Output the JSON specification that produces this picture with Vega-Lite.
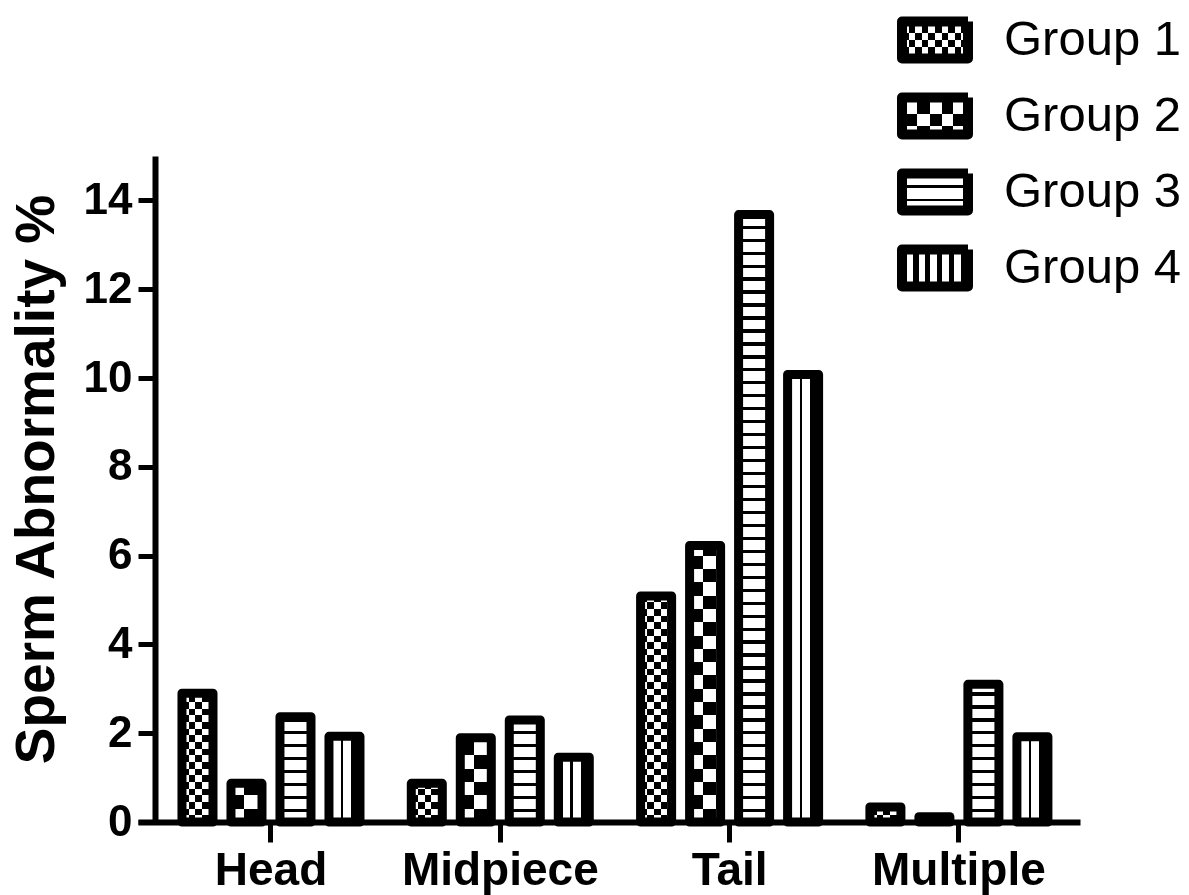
{
  "$schema": "https://vega.github.io/schema/vega-lite/v6.json",
  "width": 942,
  "height": 666,
  "autosize": {"type": "none"},
  "padding": {"left": 138, "top": 156, "right": 109, "bottom": 73},
  "background": "white",
  "config": {"font": "Liberation Sans", "view": {"stroke": null}},
  "data": {"values": [
    {"cat": "Head", "group": "Group 1", "value": 2.9},
    {"cat": "Head", "group": "Group 2", "value": 0.87},
    {"cat": "Head", "group": "Group 3", "value": 2.37},
    {"cat": "Head", "group": "Group 4", "value": 1.93},
    {"cat": "Midpiece", "group": "Group 1", "value": 0.87},
    {"cat": "Midpiece", "group": "Group 2", "value": 1.9},
    {"cat": "Midpiece", "group": "Group 3", "value": 2.3},
    {"cat": "Midpiece", "group": "Group 4", "value": 1.46},
    {"cat": "Tail", "group": "Group 1", "value": 5.09},
    {"cat": "Tail", "group": "Group 2", "value": 6.23},
    {"cat": "Tail", "group": "Group 3", "value": 13.68},
    {"cat": "Tail", "group": "Group 4", "value": 10.08},
    {"cat": "Multiple", "group": "Group 1", "value": 0.34},
    {"cat": "Multiple", "group": "Group 2", "value": 0.12},
    {"cat": "Multiple", "group": "Group 3", "value": 3.1},
    {"cat": "Multiple", "group": "Group 4", "value": 1.92}
  ]},
  "encoding": {
    "x": {"field": "cat", "type": "nominal", "title": null,
      "scale": {"domain": ["Head", "Midpiece", "Tail", "Multiple"], "paddingInner": 0, "paddingOuter": 0.054, "align": 0.74},
      "axis": {"labelFont": "Liberation Sans", "labelFontSize": 46, "labelFontWeight": "bold", "labelColor": "black", "labelAngle": 0, "labelPadding": 6, "labelLimit": 400, "tickSize": 20, "tickWidth": 5, "tickColor": "black", "domainWidth": 6, "domainColor": "black", "grid": false, "zindex": 1}},
    "xOffset": {"field": "group", "type": "nominal",
      "scale": {"domain": ["Group 1", "Group 2", "Group 3", "Group 4"], "paddingInner": 0.367, "paddingOuter": 0.5235}}
  },
  "layer": [
    {
      "transform": [{"filter": "datum.group === 'Group 4'"}],
      "mark": {"type": "bar", "strokeWidth": 0, "fill": {"gradient": "linear", "x1": 0, "y1": 0, "x2": 1, "y2": 0, "stops": [
        {"offset": 0, "color": "#000"}, {"offset": 0.145, "color": "#000"}, {"offset": 0.145, "color": "#fff"}, {"offset": 0.387, "color": "#fff"},
        {"offset": 0.387, "color": "#000"}, {"offset": 0.468, "color": "#000"}, {"offset": 0.468, "color": "#fff"}, {"offset": 0.726, "color": "#fff"},
        {"offset": 0.726, "color": "#000"}, {"offset": 1, "color": "#000"}]}},
      "encoding": {"y": {"field": "value", "type": "quantitative",
        "scale": {"domain": [0, 15], "nice": false, "zero": true},
        "axis": {"title": "Sperm Abnormality %", "titleFont": "Liberation Sans", "titleFontSize": 55, "titleFontWeight": "bold", "titleColor": "black", "titlePadding": 18, "titleY": 323,
          "values": [0, 2, 4, 6, 8, 10, 12, 14], "labelFont": "Liberation Sans", "labelFontSize": 44, "labelFontWeight": "bold", "labelColor": "black", "labelPadding": 6,
          "tickSize": 17, "tickWidth": 5, "tickColor": "black", "domainWidth": 6, "domainColor": "black", "offset": -17, "grid": false, "zindex": 1}}}
    },
    {
      "transform": [{"filter": "datum.group === 'Group 1'"}],
      "mark": {"type": "bar", "strokeWidth": 0, "fill": {"gradient": "linear", "x1": 0, "y1": 0, "x2": 1, "y2": 0, "stops": [
        {"offset": 0, "color": "#000"}, {"offset": 0.215, "color": "#000"}, {"offset": 0.215, "color": "#fff"}, {"offset": 0.43, "color": "#fff"},
        {"offset": 0.43, "color": "#000"}, {"offset": 0.645, "color": "#000"}, {"offset": 0.645, "color": "#fff"}, {"offset": 0.86, "color": "#fff"},
        {"offset": 0.86, "color": "#000"}, {"offset": 1, "color": "#000"}]}},
      "encoding": {"y": {"field": "value", "type": "quantitative"}}
    },
    {
      "transform": [{"filter": "datum.group === 'Group 1'"}],
      "mark": {"type": "bar", "strokeWidth": 0, "blend": "difference", "fill": {"gradient": "linear", "x1": 0, "y1": 0, "x2": 0, "y2": 1, "stops": [
        {"offset": 0, "color": "#000"}, {"offset": 0.025, "color": "#000"}, {"offset": 0.025, "color": "#fff"}, {"offset": 0.05, "color": "#fff"},
        {"offset": 0.05, "color": "#000"}, {"offset": 0.075, "color": "#000"}, {"offset": 0.075, "color": "#fff"}, {"offset": 0.1, "color": "#fff"},
        {"offset": 0.1, "color": "#000"}, {"offset": 0.125, "color": "#000"}, {"offset": 0.125, "color": "#fff"}, {"offset": 0.15, "color": "#fff"},
        {"offset": 0.15, "color": "#000"}, {"offset": 0.175, "color": "#000"}, {"offset": 0.175, "color": "#fff"}, {"offset": 0.2, "color": "#fff"},
        {"offset": 0.2, "color": "#000"}, {"offset": 0.225, "color": "#000"}, {"offset": 0.225, "color": "#fff"}, {"offset": 0.25, "color": "#fff"},
        {"offset": 0.25, "color": "#000"}, {"offset": 0.275, "color": "#000"}, {"offset": 0.275, "color": "#fff"}, {"offset": 0.3, "color": "#fff"},
        {"offset": 0.3, "color": "#000"}, {"offset": 0.325, "color": "#000"}, {"offset": 0.325, "color": "#fff"}, {"offset": 0.35, "color": "#fff"},
        {"offset": 0.35, "color": "#000"}, {"offset": 0.375, "color": "#000"}, {"offset": 0.375, "color": "#fff"}, {"offset": 0.4, "color": "#fff"},
        {"offset": 0.4, "color": "#000"}, {"offset": 0.425, "color": "#000"}, {"offset": 0.425, "color": "#fff"}, {"offset": 0.45, "color": "#fff"},
        {"offset": 0.45, "color": "#000"}, {"offset": 0.475, "color": "#000"}, {"offset": 0.475, "color": "#fff"}, {"offset": 0.5, "color": "#fff"},
        {"offset": 0.5, "color": "#000"}, {"offset": 0.525, "color": "#000"}, {"offset": 0.525, "color": "#fff"}, {"offset": 0.55, "color": "#fff"},
        {"offset": 0.55, "color": "#000"}, {"offset": 0.575, "color": "#000"}, {"offset": 0.575, "color": "#fff"}, {"offset": 0.6, "color": "#fff"},
        {"offset": 0.6, "color": "#000"}, {"offset": 0.625, "color": "#000"}, {"offset": 0.625, "color": "#fff"}, {"offset": 0.65, "color": "#fff"},
        {"offset": 0.65, "color": "#000"}, {"offset": 0.675, "color": "#000"}, {"offset": 0.675, "color": "#fff"}, {"offset": 0.7, "color": "#fff"},
        {"offset": 0.7, "color": "#000"}, {"offset": 0.725, "color": "#000"}, {"offset": 0.725, "color": "#fff"}, {"offset": 0.75, "color": "#fff"},
        {"offset": 0.75, "color": "#000"}, {"offset": 0.775, "color": "#000"}, {"offset": 0.775, "color": "#fff"}, {"offset": 0.8, "color": "#fff"},
        {"offset": 0.8, "color": "#000"}, {"offset": 0.825, "color": "#000"}, {"offset": 0.825, "color": "#fff"}, {"offset": 0.85, "color": "#fff"},
        {"offset": 0.85, "color": "#000"}, {"offset": 0.875, "color": "#000"}, {"offset": 0.875, "color": "#fff"}, {"offset": 0.9, "color": "#fff"},
        {"offset": 0.9, "color": "#000"}, {"offset": 0.925, "color": "#000"}, {"offset": 0.925, "color": "#fff"}, {"offset": 0.95, "color": "#fff"},
        {"offset": 0.95, "color": "#000"}, {"offset": 0.975, "color": "#000"}, {"offset": 0.975, "color": "#fff"}, {"offset": 1, "color": "#fff"}]}},
      "encoding": {"y": {"datum": 6}, "y2": {"datum": 0}}
    },
    {
      "transform": [{"filter": "datum.group === 'Group 1'"}],
      "mark": {"type": "bar", "fill": "white", "stroke": "white", "strokeWidth": 2},
      "encoding": {"y": {"field": "value", "type": "quantitative"}, "y2": {"datum": 6}}
    },
    {
      "transform": [{"filter": "datum.group === 'Group 2'"}],
      "mark": {"type": "bar", "strokeWidth": 0, "fill": {"gradient": "linear", "x1": 0, "y1": 0, "x2": 1, "y2": 0, "stops": [
        {"offset": 0, "color": "#fff"}, {"offset": 0.43, "color": "#fff"}, {"offset": 0.43, "color": "#000"}, {"offset": 0.86, "color": "#000"},
        {"offset": 0.86, "color": "#fff"}, {"offset": 1, "color": "#fff"}]}},
      "encoding": {"y": {"field": "value", "type": "quantitative"}}
    },
    {
      "transform": [{"filter": "datum.group === 'Group 2'"}],
      "mark": {"type": "bar", "strokeWidth": 0, "blend": "difference", "fill": {"gradient": "linear", "x1": 0, "y1": 0, "x2": 0, "y2": 1, "stops": [
        {"offset": 0, "color": "#000"}, {"offset": 0.04, "color": "#000"}, {"offset": 0.04, "color": "#fff"}, {"offset": 0.08, "color": "#fff"},
        {"offset": 0.08, "color": "#000"}, {"offset": 0.12, "color": "#000"}, {"offset": 0.12, "color": "#fff"}, {"offset": 0.16, "color": "#fff"},
        {"offset": 0.16, "color": "#000"}, {"offset": 0.2, "color": "#000"}, {"offset": 0.2, "color": "#fff"}, {"offset": 0.24, "color": "#fff"},
        {"offset": 0.24, "color": "#000"}, {"offset": 0.28, "color": "#000"}, {"offset": 0.28, "color": "#fff"}, {"offset": 0.32, "color": "#fff"},
        {"offset": 0.32, "color": "#000"}, {"offset": 0.36, "color": "#000"}, {"offset": 0.36, "color": "#fff"}, {"offset": 0.4, "color": "#fff"},
        {"offset": 0.4, "color": "#000"}, {"offset": 0.44, "color": "#000"}, {"offset": 0.44, "color": "#fff"}, {"offset": 0.48, "color": "#fff"},
        {"offset": 0.48, "color": "#000"}, {"offset": 0.52, "color": "#000"}, {"offset": 0.52, "color": "#fff"}, {"offset": 0.56, "color": "#fff"},
        {"offset": 0.56, "color": "#000"}, {"offset": 0.6, "color": "#000"}, {"offset": 0.6, "color": "#fff"}, {"offset": 0.64, "color": "#fff"},
        {"offset": 0.64, "color": "#000"}, {"offset": 0.68, "color": "#000"}, {"offset": 0.68, "color": "#fff"}, {"offset": 0.72, "color": "#fff"},
        {"offset": 0.72, "color": "#000"}, {"offset": 0.76, "color": "#000"}, {"offset": 0.76, "color": "#fff"}, {"offset": 0.8, "color": "#fff"},
        {"offset": 0.8, "color": "#000"}, {"offset": 0.84, "color": "#000"}, {"offset": 0.84, "color": "#fff"}, {"offset": 0.88, "color": "#fff"},
        {"offset": 0.88, "color": "#000"}, {"offset": 0.92, "color": "#000"}, {"offset": 0.92, "color": "#fff"}, {"offset": 0.96, "color": "#fff"},
        {"offset": 0.96, "color": "#000"}, {"offset": 1, "color": "#000"}]}},
      "encoding": {"y": {"datum": 7.5}, "y2": {"datum": 0}}
    },
    {
      "transform": [{"filter": "datum.group === 'Group 2'"}],
      "mark": {"type": "bar", "fill": "white", "stroke": "white", "strokeWidth": 2},
      "encoding": {"y": {"field": "value", "type": "quantitative"}, "y2": {"datum": 7.5}}
    },
    {
      "transform": [{"filter": "datum.group === 'Group 3'"}],
      "mark": {"type": "bar", "strokeWidth": 0, "fill": {"gradient": "linear", "x1": 0, "y1": 0, "x2": 0, "y2": 1, "stops": [
        {"offset": 0, "color": "#000"}, {"offset": 0.005, "color": "#000"}, {"offset": 0.005, "color": "#fff"}, {"offset": 0.02, "color": "#fff"},
        {"offset": 0.02, "color": "#000"}, {"offset": 0.025, "color": "#000"}, {"offset": 0.025, "color": "#fff"}, {"offset": 0.04, "color": "#fff"},
        {"offset": 0.04, "color": "#000"}, {"offset": 0.045, "color": "#000"}, {"offset": 0.045, "color": "#fff"}, {"offset": 0.06, "color": "#fff"},
        {"offset": 0.06, "color": "#000"}, {"offset": 0.065, "color": "#000"}, {"offset": 0.065, "color": "#fff"}, {"offset": 0.08, "color": "#fff"},
        {"offset": 0.08, "color": "#000"}, {"offset": 0.085, "color": "#000"}, {"offset": 0.085, "color": "#fff"}, {"offset": 0.1, "color": "#fff"},
        {"offset": 0.1, "color": "#000"}, {"offset": 0.105, "color": "#000"}, {"offset": 0.105, "color": "#fff"}, {"offset": 0.12, "color": "#fff"},
        {"offset": 0.12, "color": "#000"}, {"offset": 0.125, "color": "#000"}, {"offset": 0.125, "color": "#fff"}, {"offset": 0.14, "color": "#fff"},
        {"offset": 0.14, "color": "#000"}, {"offset": 0.145, "color": "#000"}, {"offset": 0.145, "color": "#fff"}, {"offset": 0.16, "color": "#fff"},
        {"offset": 0.16, "color": "#000"}, {"offset": 0.165, "color": "#000"}, {"offset": 0.165, "color": "#fff"}, {"offset": 0.18, "color": "#fff"},
        {"offset": 0.18, "color": "#000"}, {"offset": 0.185, "color": "#000"}, {"offset": 0.185, "color": "#fff"}, {"offset": 0.2, "color": "#fff"},
        {"offset": 0.2, "color": "#000"}, {"offset": 0.205, "color": "#000"}, {"offset": 0.205, "color": "#fff"}, {"offset": 0.22, "color": "#fff"},
        {"offset": 0.22, "color": "#000"}, {"offset": 0.225, "color": "#000"}, {"offset": 0.225, "color": "#fff"}, {"offset": 0.24, "color": "#fff"},
        {"offset": 0.24, "color": "#000"}, {"offset": 0.245, "color": "#000"}, {"offset": 0.245, "color": "#fff"}, {"offset": 0.26, "color": "#fff"},
        {"offset": 0.26, "color": "#000"}, {"offset": 0.265, "color": "#000"}, {"offset": 0.265, "color": "#fff"}, {"offset": 0.28, "color": "#fff"},
        {"offset": 0.28, "color": "#000"}, {"offset": 0.285, "color": "#000"}, {"offset": 0.285, "color": "#fff"}, {"offset": 0.3, "color": "#fff"},
        {"offset": 0.3, "color": "#000"}, {"offset": 0.305, "color": "#000"}, {"offset": 0.305, "color": "#fff"}, {"offset": 0.32, "color": "#fff"},
        {"offset": 0.32, "color": "#000"}, {"offset": 0.325, "color": "#000"}, {"offset": 0.325, "color": "#fff"}, {"offset": 0.34, "color": "#fff"},
        {"offset": 0.34, "color": "#000"}, {"offset": 0.345, "color": "#000"}, {"offset": 0.345, "color": "#fff"}, {"offset": 0.36, "color": "#fff"},
        {"offset": 0.36, "color": "#000"}, {"offset": 0.365, "color": "#000"}, {"offset": 0.365, "color": "#fff"}, {"offset": 0.38, "color": "#fff"},
        {"offset": 0.38, "color": "#000"}, {"offset": 0.385, "color": "#000"}, {"offset": 0.385, "color": "#fff"}, {"offset": 0.4, "color": "#fff"},
        {"offset": 0.4, "color": "#000"}, {"offset": 0.405, "color": "#000"}, {"offset": 0.405, "color": "#fff"}, {"offset": 0.42, "color": "#fff"},
        {"offset": 0.42, "color": "#000"}, {"offset": 0.425, "color": "#000"}, {"offset": 0.425, "color": "#fff"}, {"offset": 0.44, "color": "#fff"},
        {"offset": 0.44, "color": "#000"}, {"offset": 0.445, "color": "#000"}, {"offset": 0.445, "color": "#fff"}, {"offset": 0.46, "color": "#fff"},
        {"offset": 0.46, "color": "#000"}, {"offset": 0.465, "color": "#000"}, {"offset": 0.465, "color": "#fff"}, {"offset": 0.48, "color": "#fff"},
        {"offset": 0.48, "color": "#000"}, {"offset": 0.485, "color": "#000"}, {"offset": 0.485, "color": "#fff"}, {"offset": 0.5, "color": "#fff"},
        {"offset": 0.5, "color": "#000"}, {"offset": 0.505, "color": "#000"}, {"offset": 0.505, "color": "#fff"}, {"offset": 0.52, "color": "#fff"},
        {"offset": 0.52, "color": "#000"}, {"offset": 0.525, "color": "#000"}, {"offset": 0.525, "color": "#fff"}, {"offset": 0.54, "color": "#fff"},
        {"offset": 0.54, "color": "#000"}, {"offset": 0.545, "color": "#000"}, {"offset": 0.545, "color": "#fff"}, {"offset": 0.56, "color": "#fff"},
        {"offset": 0.56, "color": "#000"}, {"offset": 0.565, "color": "#000"}, {"offset": 0.565, "color": "#fff"}, {"offset": 0.58, "color": "#fff"},
        {"offset": 0.58, "color": "#000"}, {"offset": 0.585, "color": "#000"}, {"offset": 0.585, "color": "#fff"}, {"offset": 0.6, "color": "#fff"},
        {"offset": 0.6, "color": "#000"}, {"offset": 0.605, "color": "#000"}, {"offset": 0.605, "color": "#fff"}, {"offset": 0.62, "color": "#fff"},
        {"offset": 0.62, "color": "#000"}, {"offset": 0.625, "color": "#000"}, {"offset": 0.625, "color": "#fff"}, {"offset": 0.64, "color": "#fff"},
        {"offset": 0.64, "color": "#000"}, {"offset": 0.645, "color": "#000"}, {"offset": 0.645, "color": "#fff"}, {"offset": 0.66, "color": "#fff"},
        {"offset": 0.66, "color": "#000"}, {"offset": 0.665, "color": "#000"}, {"offset": 0.665, "color": "#fff"}, {"offset": 0.68, "color": "#fff"},
        {"offset": 0.68, "color": "#000"}, {"offset": 0.685, "color": "#000"}, {"offset": 0.685, "color": "#fff"}, {"offset": 0.7, "color": "#fff"},
        {"offset": 0.7, "color": "#000"}, {"offset": 0.705, "color": "#000"}, {"offset": 0.705, "color": "#fff"}, {"offset": 0.72, "color": "#fff"},
        {"offset": 0.72, "color": "#000"}, {"offset": 0.725, "color": "#000"}, {"offset": 0.725, "color": "#fff"}, {"offset": 0.74, "color": "#fff"},
        {"offset": 0.74, "color": "#000"}, {"offset": 0.745, "color": "#000"}, {"offset": 0.745, "color": "#fff"}, {"offset": 0.76, "color": "#fff"},
        {"offset": 0.76, "color": "#000"}, {"offset": 0.765, "color": "#000"}, {"offset": 0.765, "color": "#fff"}, {"offset": 0.78, "color": "#fff"},
        {"offset": 0.78, "color": "#000"}, {"offset": 0.785, "color": "#000"}, {"offset": 0.785, "color": "#fff"}, {"offset": 0.8, "color": "#fff"},
        {"offset": 0.8, "color": "#000"}, {"offset": 0.805, "color": "#000"}, {"offset": 0.805, "color": "#fff"}, {"offset": 0.82, "color": "#fff"},
        {"offset": 0.82, "color": "#000"}, {"offset": 0.825, "color": "#000"}, {"offset": 0.825, "color": "#fff"}, {"offset": 0.84, "color": "#fff"},
        {"offset": 0.84, "color": "#000"}, {"offset": 0.845, "color": "#000"}, {"offset": 0.845, "color": "#fff"}, {"offset": 0.86, "color": "#fff"},
        {"offset": 0.86, "color": "#000"}, {"offset": 0.865, "color": "#000"}, {"offset": 0.865, "color": "#fff"}, {"offset": 0.88, "color": "#fff"},
        {"offset": 0.88, "color": "#000"}, {"offset": 0.885, "color": "#000"}, {"offset": 0.885, "color": "#fff"}, {"offset": 0.9, "color": "#fff"},
        {"offset": 0.9, "color": "#000"}, {"offset": 0.905, "color": "#000"}, {"offset": 0.905, "color": "#fff"}, {"offset": 0.92, "color": "#fff"},
        {"offset": 0.92, "color": "#000"}, {"offset": 0.925, "color": "#000"}, {"offset": 0.925, "color": "#fff"}, {"offset": 0.94, "color": "#fff"},
        {"offset": 0.94, "color": "#000"}, {"offset": 0.945, "color": "#000"}, {"offset": 0.945, "color": "#fff"}, {"offset": 0.96, "color": "#fff"},
        {"offset": 0.96, "color": "#000"}, {"offset": 0.965, "color": "#000"}, {"offset": 0.965, "color": "#fff"}, {"offset": 0.98, "color": "#fff"},
        {"offset": 0.98, "color": "#000"}, {"offset": 0.985, "color": "#000"}, {"offset": 0.985, "color": "#fff"}, {"offset": 1, "color": "#fff"}]}},
      "encoding": {"y": {"datum": 14.6}, "y2": {"datum": 0}}
    },
    {
      "transform": [{"filter": "datum.group === 'Group 3'"}],
      "mark": {"type": "bar", "fill": "white", "stroke": "white", "strokeWidth": 2},
      "encoding": {"y": {"field": "value", "type": "quantitative"}, "y2": {"datum": 14.6}}
    },
    {
      "mark": {"type": "bar", "fillOpacity": 0, "stroke": "black", "strokeWidth": 9, "strokeJoin": "round"},
      "encoding": {"y": {"field": "value", "type": "quantitative"}}
    },
    {
      "mark": {"type": "bar", "fill": "transparent", "stroke": "transparent", "strokeWidth": 0},
      "encoding": {
        "y": {"field": "value", "type": "quantitative"},
        "strokeDash": {"field": "group", "type": "nominal",
          "scale": {"domain": ["Group 1", "Group 2", "Group 3", "Group 4"], "range": [[1, 0], [1, 0], [1, 0], [1, 0]]},
          "legend": {"orient": "none", "legendX": 759, "legendY": -154, "title": null, "padding": 0, "rowPadding": 13,
            "symbolType": "M-1,-0.56H1V0.56H-1Z", "symbolSize": 4356, "symbolStrokeWidth": 10,
            "labelFont": "Liberation Sans", "labelFontSize": 49, "labelColor": "black", "labelOffset": 31, "labelLimit": 400,
            "encoding": {"symbols": {
              "fill": {"condition": [
                {"test": "datum.value === 'Group 1'", "value": {"gradient": "linear", "x1": 0, "y1": 0, "x2": 1, "y2": 0, "stops": [
                  {"offset": 0, "color": "#fff"}, {"offset": 0.1, "color": "#fff"}, {"offset": 0.1, "color": "#000"}, {"offset": 0.2, "color": "#000"},
                  {"offset": 0.2, "color": "#fff"}, {"offset": 0.3, "color": "#fff"}, {"offset": 0.3, "color": "#000"}, {"offset": 0.4, "color": "#000"},
                  {"offset": 0.4, "color": "#fff"}, {"offset": 0.5, "color": "#fff"}, {"offset": 0.5, "color": "#000"}, {"offset": 0.6, "color": "#000"},
                  {"offset": 0.6, "color": "#fff"}, {"offset": 0.7, "color": "#fff"}, {"offset": 0.7, "color": "#000"}, {"offset": 0.8, "color": "#000"},
                  {"offset": 0.8, "color": "#fff"}, {"offset": 0.9, "color": "#fff"}, {"offset": 0.9, "color": "#000"}, {"offset": 1, "color": "#000"}]}},
                {"test": "datum.value === 'Group 2'", "value": {"gradient": "linear", "x1": 0, "y1": 0, "x2": 1, "y2": 0, "stops": [
                  {"offset": 0, "color": "#fff"}, {"offset": 0.227, "color": "#fff"}, {"offset": 0.227, "color": "#000"}, {"offset": 0.424, "color": "#000"},
                  {"offset": 0.424, "color": "#fff"}, {"offset": 0.606, "color": "#fff"}, {"offset": 0.606, "color": "#000"}, {"offset": 0.773, "color": "#000"},
                  {"offset": 0.773, "color": "#fff"}, {"offset": 1, "color": "#fff"}]}},
                {"test": "datum.value === 'Group 3'", "value": {"gradient": "linear", "x1": 0, "y1": 0, "x2": 0, "y2": 1, "stops": [
                  {"offset": 0, "color": "#fff"}, {"offset": 0.316, "color": "#fff"}, {"offset": 0.316, "color": "#000"}, {"offset": 0.405, "color": "#000"},
                  {"offset": 0.405, "color": "#fff"}, {"offset": 0.676, "color": "#fff"}, {"offset": 0.676, "color": "#000"}, {"offset": 0.748, "color": "#000"},
                  {"offset": 0.748, "color": "#fff"}, {"offset": 1, "color": "#fff"}]}}],
                "value": {"gradient": "linear", "x1": 0, "y1": 0, "x2": 1, "y2": 0, "stops": [
                  {"offset": 0, "color": "#fff"}, {"offset": 0.167, "color": "#fff"}, {"offset": 0.167, "color": "#000"}, {"offset": 0.252, "color": "#000"},
                  {"offset": 0.252, "color": "#fff"}, {"offset": 0.353, "color": "#fff"}, {"offset": 0.353, "color": "#000"}, {"offset": 0.429, "color": "#000"},
                  {"offset": 0.429, "color": "#fff"}, {"offset": 0.53, "color": "#fff"}, {"offset": 0.53, "color": "#000"}, {"offset": 0.606, "color": "#000"},
                  {"offset": 0.606, "color": "#fff"}, {"offset": 0.706, "color": "#fff"}, {"offset": 0.706, "color": "#000"}, {"offset": 0.782, "color": "#000"},
                  {"offset": 0.782, "color": "#fff"}, {"offset": 0.894, "color": "#fff"}, {"offset": 0.894, "color": "#000"}, {"offset": 1, "color": "#000"}]}},
              "stroke": {"value": "transparent"},
              "strokeWidth": {"value": 10},
              "strokeJoin": {"value": "round"},
              "opacity": {"value": 1},
              "fillOpacity": {"value": 1}
            }}}}
      }
    },
    {
      "mark": {"type": "bar", "fill": "transparent", "stroke": "transparent", "strokeWidth": 0},
      "encoding": {
        "y": {"field": "value", "type": "quantitative"},
        "strokeDash": {"field": "group", "type": "nominal",
          "scale": {"domain": ["Group 1", "Group 2", "Group 3", "Group 4"], "range": [[1, 0], [1, 0], [1, 0], [1, 0]]},
          "legend": {"orient": "none", "legendX": 759, "legendY": -154, "title": null, "padding": 0, "rowPadding": 13,
            "symbolType": "M-1,-0.56H1V0.56H-1Z", "symbolSize": 4356, "symbolStrokeWidth": 10,
            "labelFont": "Liberation Sans", "labelFontSize": 49, "labelColor": "black", "labelOffset": 31, "labelLimit": 400, "labelExpr": "' '",
            "encoding": {"symbols": {
              "fill": {"condition": [
                {"test": "datum.value === 'Group 1'", "value": {"gradient": "linear", "x1": 0, "y1": 0, "x2": 0, "y2": 1, "stops": [
                  {"offset": 0, "color": "#000"}, {"offset": 0.318, "color": "#000"}, {"offset": 0.318, "color": "#fff"}, {"offset": 0.5, "color": "#fff"},
                  {"offset": 0.5, "color": "#000"}, {"offset": 0.682, "color": "#000"}, {"offset": 0.682, "color": "#fff"}, {"offset": 1, "color": "#fff"}]}},
                {"test": "datum.value === 'Group 2'", "value": {"gradient": "linear", "x1": 0, "y1": 0, "x2": 0, "y2": 1, "stops": [
                  {"offset": 0, "color": "#000"}, {"offset": 0.459, "color": "#000"}, {"offset": 0.459, "color": "#fff"}, {"offset": 0.784, "color": "#fff"},
                  {"offset": 0.784, "color": "#000"}, {"offset": 1, "color": "#000"}]}}],
                "value": "transparent"},
              "stroke": {"value": "transparent"},
              "strokeWidth": {"value": 10},
              "strokeJoin": {"value": "round"},
              "opacity": {"value": 1},
              "fillOpacity": {"value": 1},
              "blend": {"value": "difference"}
            }}}}
      }
    },
    {
      "mark": {"type": "bar", "fill": "transparent", "stroke": "transparent", "strokeWidth": 0},
      "encoding": {
        "y": {"field": "value", "type": "quantitative"},
        "strokeDash": {"field": "group", "type": "nominal",
          "scale": {"domain": ["Group 1", "Group 2", "Group 3", "Group 4"], "range": [[1, 0], [1, 0], [1, 0], [1, 0]]},
          "legend": {"orient": "none", "legendX": 759, "legendY": -154, "title": null, "padding": 0, "rowPadding": 13,
            "symbolType": "M-1,-0.56H1V0.56H-1Z", "symbolSize": 4356, "symbolStrokeWidth": 10,
            "labelFont": "Liberation Sans", "labelFontSize": 49, "labelColor": "black", "labelOffset": 31, "labelLimit": 400, "labelExpr": "' '",
            "encoding": {"symbols": {
              "fill": {"value": "transparent"},
              "stroke": {"value": "black"},
              "strokeWidth": {"value": 10},
              "strokeJoin": {"value": "round"},
              "opacity": {"value": 1}
            }}}}
      }
    }
  ],
  "resolve": {"scale": {"strokeDash": "independent"}}
}
